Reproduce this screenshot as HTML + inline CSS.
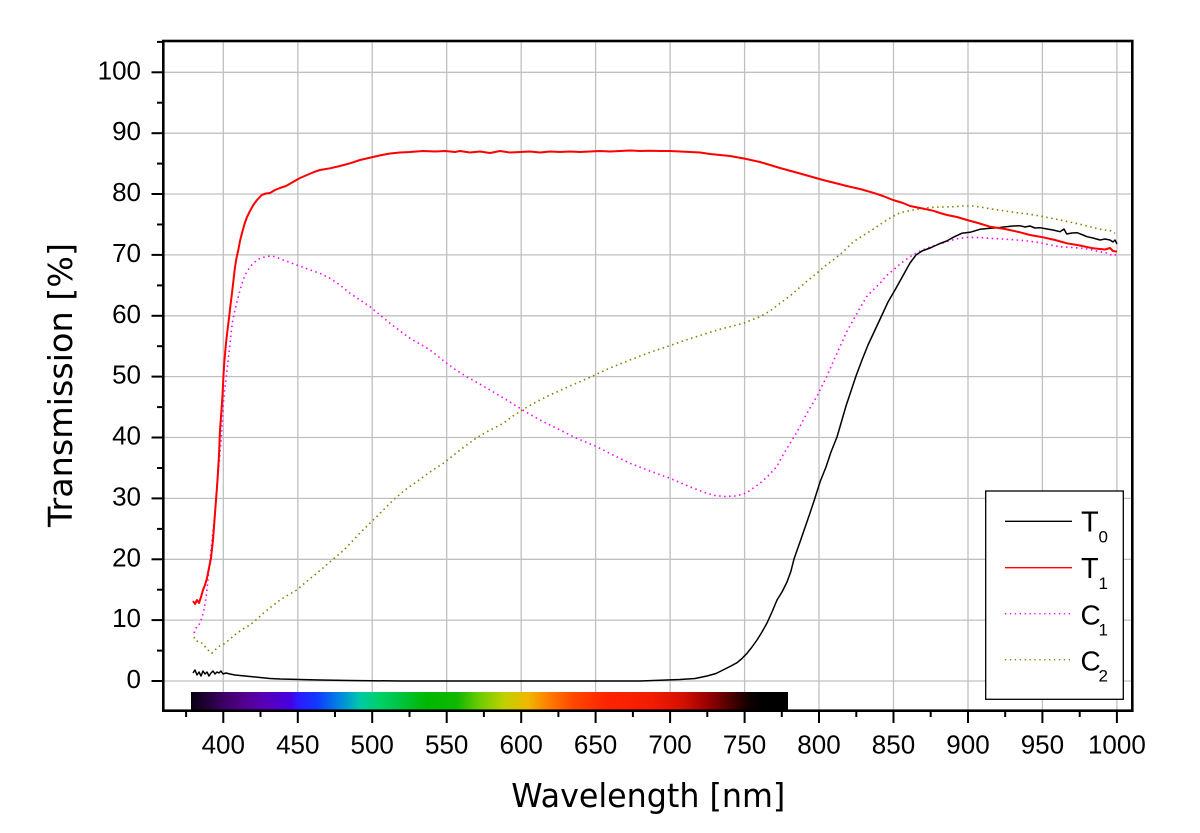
<!DOCTYPE html>
<html>
<head>
<meta charset="utf-8">
<style>
  html, body { margin: 0; padding: 0; background: #ffffff; }
  body { width: 1200px; height: 833px; overflow: hidden; }
  svg { display: block; }
</style>
</head>
<body>
<svg width="1200" height="833" viewBox="0 0 1200 833" xmlns="http://www.w3.org/2000/svg">
  <defs>
    <linearGradient id="spec" x1="0" y1="0" x2="1" y2="0">
      <stop offset="0%" stop-color="#080010"/>
      <stop offset="5.5%" stop-color="#3c0064"/>
      <stop offset="8.8%" stop-color="#54008c"/>
      <stop offset="12%" stop-color="#5800b4"/>
      <stop offset="16.6%" stop-color="#4800e0"/>
      <stop offset="18%" stop-color="#2a1cff"/>
      <stop offset="21%" stop-color="#1238ff"/>
      <stop offset="25%" stop-color="#0088e0"/>
      <stop offset="28.3%" stop-color="#00c8a8"/>
      <stop offset="31.6%" stop-color="#00d068"/>
      <stop offset="35%" stop-color="#00c440"/>
      <stop offset="39.4%" stop-color="#00b800"/>
      <stop offset="44.6%" stop-color="#10b800"/>
      <stop offset="48.5%" stop-color="#70cc00"/>
      <stop offset="52.5%" stop-color="#c0d000"/>
      <stop offset="56.4%" stop-color="#f0b800"/>
      <stop offset="60.3%" stop-color="#ff7800"/>
      <stop offset="64%" stop-color="#ff4800"/>
      <stop offset="69.4%" stop-color="#ff2400"/>
      <stop offset="77%" stop-color="#f41c00"/>
      <stop offset="82.4%" stop-color="#d41000"/>
      <stop offset="87%" stop-color="#900000"/>
      <stop offset="90.2%" stop-color="#500000"/>
      <stop offset="93.5%" stop-color="#100000"/>
      <stop offset="95.5%" stop-color="#000000"/>
      <stop offset="100%" stop-color="#000000"/>
    </linearGradient>
  </defs>

  <!-- grid -->
  <g stroke="#c0c0c0" stroke-width="1.3">
    <line x1="223.3" y1="42" x2="223.3" y2="710"/>
    <line x1="297.8" y1="42" x2="297.8" y2="710"/>
    <line x1="372.2" y1="42" x2="372.2" y2="710"/>
    <line x1="446.7" y1="42" x2="446.7" y2="710"/>
    <line x1="521.2" y1="42" x2="521.2" y2="710"/>
    <line x1="595.6" y1="42" x2="595.6" y2="710"/>
    <line x1="670.1" y1="42" x2="670.1" y2="710"/>
    <line x1="744.6" y1="42" x2="744.6" y2="710"/>
    <line x1="819.0" y1="42" x2="819.0" y2="710"/>
    <line x1="893.5" y1="42" x2="893.5" y2="710"/>
    <line x1="968.0" y1="42" x2="968.0" y2="710"/>
    <line x1="1042.4" y1="42" x2="1042.4" y2="710"/>
    <line x1="1116.9" y1="42" x2="1116.9" y2="710"/>

    <line x1="164" y1="681" x2="1132" y2="681"/>
    <line x1="164" y1="620.1" x2="1132" y2="620.1"/>
    <line x1="164" y1="559.3" x2="1132" y2="559.3"/>
    <line x1="164" y1="498.4" x2="1132" y2="498.4"/>
    <line x1="164" y1="437.5" x2="1132" y2="437.5"/>
    <line x1="164" y1="376.6" x2="1132" y2="376.6"/>
    <line x1="164" y1="315.8" x2="1132" y2="315.8"/>
    <line x1="164" y1="254.9" x2="1132" y2="254.9"/>
    <line x1="164" y1="194.0" x2="1132" y2="194.0"/>
    <line x1="164" y1="133.2" x2="1132" y2="133.2"/>
    <line x1="164" y1="72.3" x2="1132" y2="72.3"/>
  </g>

  <!-- spectrum bar -->
  <rect x="191" y="692" width="597" height="18.5" fill="url(#spec)"/>

  <!-- C2 olive dotted -->
  <polyline fill="none" stroke="#808000" stroke-width="1.6" stroke-dasharray="1.5 3.5" stroke-linejoin="round"
    points="194,637 196,641 200,641.7 203,644 205,646.7 208,650 211.7,653.3 215,650 218.3,646.7 222,645 225,643.3 230,639 236.7,633.3 243,629 250,625 257,619 263.3,613.3 271,607 280,600 288,595 296.7,590 306,582 316.7,573.3 330,562 345,549 360,533 375,518.3 393.3,500 405,490 416.7,481.7 430,472 443.3,463.3 460,450 476.7,437.7 490,430 503.3,423.3 513,416 523.3,409.3 536,402 550,395 570,386 590,377.3 610,368 630,360 648,353 666.7,346.7 686,340 706.7,333.3 720,329.3 743.3,323.3 760,316.7 770,311 780,303.3 790,296 796.7,290 806,282 816.7,273.3 825,266 833.3,260 843.3,251.7 853.3,241.7 866.7,233.3 875,228 886.7,220 892,217 900,212.7 908,211 916.7,209.3 925,208 933.3,207.3 943,207 953.3,206.7 963,206 973.3,206 983,207.5 993.3,209.3 1005,211 1016.7,212.7 1028,214 1040,216 1050,218 1060,220 1072,222.5 1083.3,225 1093,227.5 1103.3,230 1110,230.5 1115,233.3"/>

  <!-- C1 magenta dotted -->
  <polyline fill="none" stroke="#ff00ff" stroke-width="1.6" stroke-dasharray="1.5 3.5" stroke-linejoin="round"
    points="194,633 196,628 198.3,626.7 201,620 203.3,613 206,598 208.3,577 210,560 211.7,543 213.3,528 215,513 216.5,495 217.7,477 219,465 220,453 221.3,437 222.3,420 223.3,405 224.3,393 225.5,383 226.7,373 228,361 229.3,350 230.8,336 232.3,323 233.7,316 235,310 237.5,300 240,290 242.5,282 245,275 248,270 251.7,265 256,261 260,258.3 266,256.5 271.7,256 277,257.5 283.3,260 290,262.5 296.7,265 305,268 313,271 320,273.3 330,278.3 340,285 350,293.3 360,300 370,306.7 380,315 390,323.3 400,331 410,338.3 420,344 430,350 446.7,363.3 456,370 466.7,376.7 478,383 490,390 505,399 520,408.3 531,415 543.3,421.7 560,430 576.7,438.3 596.7,446.7 613,455 630,463.3 650,471 670,478.3 688,486 706.7,493.3 715,495.5 725,496.5 735,496 742,494.5 746.7,492.7 752,489 760,483.3 768,476 776.7,466.7 783,455 790,443.3 797,432 803.3,420 810,408 816.7,396.7 821,388 826.7,376.7 833,362 840,346.7 846,333 853.3,320 860,308 866.7,296.7 873,290 880,283.3 886,276 893.3,270 900,264 910,256.7 918,252 926.7,248.3 936,245 946.7,241.7 956,239 966.7,237.3 978,237.5 990,238.3 1003,239 1016.7,240 1028,241 1040,242.7 1050,245 1060,246.7 1072,247.5 1083.3,248.3 1092,250 1100,251.7 1107,253 1113.3,256 1117,254"/>

  <!-- T0 black -->
  <polyline fill="none" stroke="#000000" stroke-width="1.5" stroke-linejoin="round"
    points="193,673 195,670 197,675 199,672 201,676 203,671 205,674 207,672 209,676 211,673 213,671 215,674 217,672 219,673 221,671 223,674 226,673 230,674 235,675 240,675.5 245,676 250,676.5 260,677.5 270,678.5 280,679 300,679.5 320,680 350,680.5 400,681 500,681 600,681 640,681 680,679.5 695,678.5 707,676 716,673.5 723,670 730,666.5 737,662.7 742,658.5 747,653.3 752,647 757,640 762,632 767,623 772,612 777,600 782,592 787,582 791,571 794,559 800,542 805,527.5 810,513 815,498 820,482 826,467 831,452 837,437 846,406 856,376 862,360 868,345 875,330 882,315 888,302 895,290 900,281 905,272 910,263 916,255 922,251 930,248 933,246.7 940,243.5 946.7,241 953.3,237.3 961.7,233.3 970,232.3 980,229.3 990,228.3 1000,227.5 1006,226.7 1013,226 1020,225.7 1025,227 1030,226 1035,228 1040,227.7 1047,229 1053,230 1060,231.7 1064,229 1066.7,234 1072,233 1077,232.7 1083,235 1087,236.7 1093,238 1100,240 1105,239 1110,240 1113,242 1115,240 1117,244"/>

  <!-- T1 red -->
  <polyline fill="none" stroke="#ff0000" stroke-width="2" stroke-linejoin="round"
    points="193,601 195,604 197,600 199,603 201,597 203,590 205,585 207,578 209,568 211,558 213,540 214.5,520 216,500 217.5,480 219,455 220,430 221.5,410 222.5,395 223.5,375 224.5,360 226,343 227.5,330 229,318 230.5,305 232,293 233.5,280 235,267 236.5,258 238.3,250 240,241 242,233 244.5,224 247,217 250,211 253.3,205 257,200 261.7,195 266,193.5 270,193 275,190 280,188 286,186 293,182 300,178 307,175 314,172 320,170 330,168.3 340,166 350,163.3 360,160 373,157 382,155 390,153.5 400,152.5 410,152 423,151 435,151.5 445,151 455,152 460,151 470,152.5 480,151.5 490,153 500,151 510,152.5 520,152 530,151.5 540,152.5 550,151.5 560,152 570,151.5 580,152 590,151.5 600,151 610,151.5 620,151 630,150.5 640,151 650,150.8 660,151 670,151 680,151.5 690,152 700,152.5 710,154 730,156 744,158.5 760,162 780,168 800,173.5 823,180 835,183 846.7,186 860,189 873,192.7 883,196 893,200 903,203 910,206 920,208 933,210.7 940,213 947,215 957,217 967,220 978,223 990,226.7 1005,229 1020,232.3 1030,235 1043,237.3 1055,240 1067,243.3 1080,245.5 1093,248.3 1105,249.5 1110,248 1113,251 1117,251.7"/>

  <!-- frame -->
  <rect x="163.3" y="41" width="969" height="669.7" fill="none" stroke="#000" stroke-width="2.6"/>

  <!-- y ticks -->
  <g stroke="#000" stroke-width="2">
    <line x1="151.5" y1="681" x2="163" y2="681"/>
    <line x1="151.5" y1="620.1" x2="163" y2="620.1"/>
    <line x1="151.5" y1="559.3" x2="163" y2="559.3"/>
    <line x1="151.5" y1="498.4" x2="163" y2="498.4"/>
    <line x1="151.5" y1="437.5" x2="163" y2="437.5"/>
    <line x1="151.5" y1="376.6" x2="163" y2="376.6"/>
    <line x1="151.5" y1="315.8" x2="163" y2="315.8"/>
    <line x1="151.5" y1="254.9" x2="163" y2="254.9"/>
    <line x1="151.5" y1="194.0" x2="163" y2="194.0"/>
    <line x1="151.5" y1="133.2" x2="163" y2="133.2"/>
    <line x1="151.5" y1="72.3" x2="163" y2="72.3"/>
    <line x1="157" y1="650.6" x2="163" y2="650.6"/>
    <line x1="157" y1="589.7" x2="163" y2="589.7"/>
    <line x1="157" y1="528.9" x2="163" y2="528.9"/>
    <line x1="157" y1="468.0" x2="163" y2="468.0"/>
    <line x1="157" y1="407.1" x2="163" y2="407.1"/>
    <line x1="157" y1="346.2" x2="163" y2="346.2"/>
    <line x1="157" y1="285.4" x2="163" y2="285.4"/>
    <line x1="157" y1="224.5" x2="163" y2="224.5"/>
    <line x1="157" y1="163.6" x2="163" y2="163.6"/>
    <line x1="157" y1="102.7" x2="163" y2="102.7"/>
    <line x1="157" y1="41.9" x2="163" y2="41.9"/>
  </g>

  <!-- x ticks -->
  <g stroke="#000" stroke-width="2">
    <line x1="223.3" y1="711" x2="223.3" y2="723"/>
    <line x1="297.8" y1="711" x2="297.8" y2="723"/>
    <line x1="372.2" y1="711" x2="372.2" y2="723"/>
    <line x1="446.7" y1="711" x2="446.7" y2="723"/>
    <line x1="521.2" y1="711" x2="521.2" y2="723"/>
    <line x1="595.6" y1="711" x2="595.6" y2="723"/>
    <line x1="670.1" y1="711" x2="670.1" y2="723"/>
    <line x1="744.6" y1="711" x2="744.6" y2="723"/>
    <line x1="819.0" y1="711" x2="819.0" y2="723"/>
    <line x1="893.5" y1="711" x2="893.5" y2="723"/>
    <line x1="968.0" y1="711" x2="968.0" y2="723"/>
    <line x1="1042.4" y1="711" x2="1042.4" y2="723"/>
    <line x1="1116.9" y1="711" x2="1116.9" y2="723"/>
    <line x1="186.1" y1="711" x2="186.1" y2="717"/>
    <line x1="260.5" y1="711" x2="260.5" y2="717"/>
    <line x1="335.0" y1="711" x2="335.0" y2="717"/>
    <line x1="409.5" y1="711" x2="409.5" y2="717"/>
    <line x1="483.9" y1="711" x2="483.9" y2="717"/>
    <line x1="558.4" y1="711" x2="558.4" y2="717"/>
    <line x1="632.9" y1="711" x2="632.9" y2="717"/>
    <line x1="707.3" y1="711" x2="707.3" y2="717"/>
    <line x1="781.8" y1="711" x2="781.8" y2="717"/>
    <line x1="856.3" y1="711" x2="856.3" y2="717"/>
    <line x1="930.7" y1="711" x2="930.7" y2="717"/>
    <line x1="1005.2" y1="711" x2="1005.2" y2="717"/>
    <line x1="1079.7" y1="711" x2="1079.7" y2="717"/>
  </g>

  <!-- y tick labels -->
  <g font-family="'Liberation Sans', Arial, sans-serif" font-size="26" fill="#000" text-anchor="end">
    <text x="141" y="688">0</text>
    <text x="141" y="627.1">10</text>
    <text x="141" y="566.3">20</text>
    <text x="141" y="505.4">30</text>
    <text x="141" y="444.5">40</text>
    <text x="141" y="383.6">50</text>
    <text x="141" y="322.8">60</text>
    <text x="141" y="261.9">70</text>
    <text x="141" y="201.0">80</text>
    <text x="141" y="140.2">90</text>
    <text x="141" y="79.3">100</text>
  </g>

  <!-- x tick labels -->
  <g font-family="'Liberation Sans', Arial, sans-serif" font-size="26" fill="#000" text-anchor="middle">
    <text x="223.3" y="753.3">400</text>
    <text x="297.8" y="753.3">450</text>
    <text x="372.2" y="753.3">500</text>
    <text x="446.7" y="753.3">550</text>
    <text x="521.2" y="753.3">600</text>
    <text x="595.6" y="753.3">650</text>
    <text x="670.1" y="753.3">700</text>
    <text x="744.6" y="753.3">750</text>
    <text x="819.0" y="753.3">800</text>
    <text x="893.5" y="753.3">850</text>
    <text x="968.0" y="753.3">900</text>
    <text x="1042.4" y="753.3">950</text>
    <text x="1116.9" y="753.3">1000</text>
  </g>

  <!-- axis titles -->
  <text x="648.3" y="807" font-family="'DejaVu Sans', 'Liberation Sans', sans-serif" font-size="33" fill="#000" text-anchor="middle" textLength="274" lengthAdjust="spacingAndGlyphs">Wavelength [nm]</text>
  <text transform="translate(72,385) rotate(-90)" font-family="'DejaVu Sans', 'Liberation Sans', sans-serif" font-size="33" fill="#000" text-anchor="middle" textLength="284" lengthAdjust="spacingAndGlyphs">Transmission [%]</text>

  <!-- legend -->
  <rect x="985.7" y="491" width="137.6" height="208.3" fill="#ffffff" stroke="#000" stroke-width="1.3"/>
  <line x1="1005" y1="521.3" x2="1072" y2="521.3" stroke="#000" stroke-width="1.3"/>
  <line x1="1005" y1="567.7" x2="1072" y2="567.7" stroke="#ff0000" stroke-width="1.3"/>
  <line x1="1005" y1="613.7" x2="1070" y2="613.7" stroke="#ff00ff" stroke-width="1.3" stroke-dasharray="1.3 3.6"/>
  <line x1="1005" y1="659.7" x2="1070" y2="659.7" stroke="#808000" stroke-width="1.3" stroke-dasharray="1.3 3.6"/>
  <g font-family="'Liberation Sans', Arial, sans-serif" fill="#000">
    <text x="1081" y="531.7" font-size="29">T</text>
    <text x="1098.5" y="542.7" font-size="17">0</text>
    <text x="1081" y="578" font-size="29">T</text>
    <text x="1098.5" y="589" font-size="17">1</text>
    <text x="1080.5" y="624.3" font-size="28">C</text>
    <text x="1098.5" y="635.3" font-size="17">1</text>
    <text x="1080.5" y="670.6" font-size="28">C</text>
    <text x="1098.5" y="681.6" font-size="17">2</text>
  </g>
</svg>
</body>
</html>
